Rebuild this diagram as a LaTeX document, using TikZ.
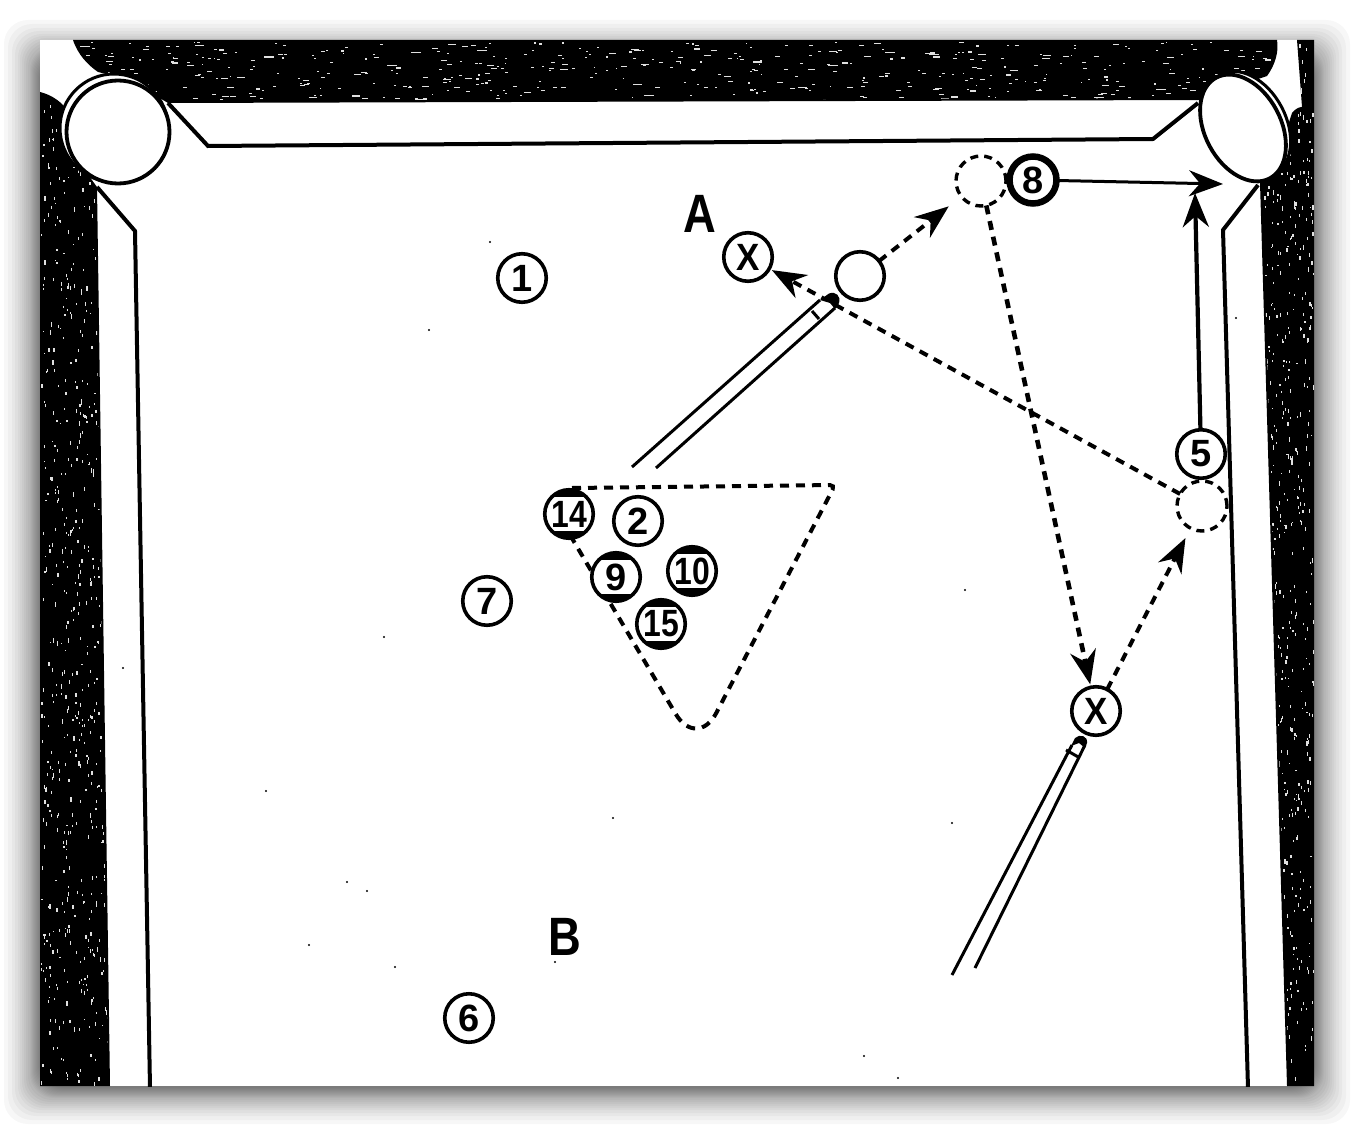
\documentclass[tikz,border=0pt]{standalone}
\usepackage{fontspec}
\usepackage{graphicx}
\setmainfont{Liberation Sans}
\usetikzlibrary{arrows.meta}
\newcommand{\ballfont}{\fontsize{38}{38}\selectfont\bfseries}
\newcommand{\nar}[1]{\scalebox{.92}[1]{#1}}
\newcommand{\nart}[1]{\scalebox{.84}[1]{#1}}
\tikzset{
  ballbase/.style={circle,draw=black,fill=white,inner sep=0pt,outer sep=0pt,minimum size=48.5pt,line width=3.6pt,font=\ballfont},
  striped/.style={ballbase,path picture={
    \fill[black] (path picture bounding box.north west) rectangle ([yshift=-7pt]path picture bounding box.north east);
    \fill[black] (path picture bounding box.south west) rectangle ([yshift=7pt]path picture bounding box.south east);}},
  ghost/.style={circle,draw=black,inner sep=0pt,outer sep=0pt,minimum size=50pt,line width=3.4pt,dash pattern=on 8pt off 6pt},
  letter/.style={inner sep=0pt,font=\fontsize{54}{54}\selectfont\bfseries},
  rail/.style={line width=4pt,line join=miter},
  dashline/.style={line width=4pt,dash pattern=on 9pt off 7pt},
  head/.style={-{Stealth[length=34pt,width=26pt,inset=11pt]}},
  cueline/.style={line width=3pt},
}
\begin{document}
\begin{tikzpicture}[x=1pt,y=-1pt]
\useasboundingbox (0,0) rectangle (1354,1126);
\fill[white] (0,0) rectangle (1354,1126);
% drop shadow
\foreach \s in {36,32,28,25,22,20,18,16,14,12,10,9,8,7,6,5,4,3,2,1,0}{
  \fill[black,opacity=.032,rounded corners=24pt] ({40-\s},{56-\s}) rectangle ({1314+\s},{1088+\s});
}
\fill[white] (40,40) rectangle (1314,1086);
% felt
\begin{scope}
\clip (40,40) rectangle (1314,1086);
\fill[black] (73,40) .. controls (78,55) and (88,65) .. (98,72) -- (130,80) -- (168,103) -- (1200,100) -- (1240,85) -- (1267,76) .. controls (1275,65) and (1279,52) .. (1277,40) -- cycle;
\fill[black] (40,92) .. controls (48,94) and (56,98) .. (63,105) -- (70,150) -- (97,187) -- (110,1086) -- (40,1086) -- cycle;
\fill[black] (1297,40) -- (1314,40) -- (1314,1086) -- (1287,1086) -- (1260,183) -- (1280,150) -- (1292,113) .. controls (1295,109) and (1299,107) .. (1302,107) -- cycle;
\pgfmathsetseed{11}
\begin{scope}
\clip (73,40) .. controls (78,55) and (88,65) .. (98,72) -- (130,80) -- (168,101) -- (1200,98) -- (1240,85) -- (1267,76) .. controls (1275,65) and (1279,52) .. (1277,40) -- cycle;
\foreach \i in {1,...,480}{
  \pgfmathsetmacro\px{80+rnd*1190}\pgfmathsetmacro\py{42+rnd*58}\pgfmathsetmacro\w{1.5+rnd*rnd*9}
  \fill[white!88!black] (\px,\py) rectangle ++(\w,1.1);
}
\end{scope}
\begin{scope}
\clip (40,92) .. controls (48,94) and (56,98) .. (63,105) -- (70,150) -- (95,187) -- (108,1086) -- (40,1086) -- cycle;
\foreach \i in {1,...,620}{
  \pgfmathsetmacro\px{41+rnd*68}\pgfmathsetmacro\py{95+rnd*990}\pgfmathsetmacro\w{1.2+rnd*3.5}
  \fill[white!88!black] (\px,\py) rectangle ++(1.2,\w);
}
\end{scope}
\begin{scope}
\clip (1297,40) -- (1314,40) -- (1314,1086) -- (1289,1086) -- (1262,183) -- (1280,150) -- (1292,113) .. controls (1295,109) and (1299,107) .. (1302,107) -- cycle;
\foreach \i in {1,...,560}{
  \pgfmathsetmacro\px{1262+rnd*52}\pgfmathsetmacro\py{42+rnd*1043}\pgfmathsetmacro\w{1.2+rnd*3.5}
  \fill[white!88!black] (\px,\py) rectangle ++(1.2,\w);
}
\end{scope}
% rail lines
\draw[rail] (168,103) -- (208,146) -- (1153,139) -- (1198,103);
\draw[rail] (97,187) -- (135,231) -- (150,1088);
\draw[rail] (1258,185) -- (1223,230) -- (1248,1088);
% pockets
\draw[line width=3pt,fill=white] (114,128) circle[radius=54pt];
\draw[line width=3.8pt,fill=white] (118,132) circle[radius=51.5pt];
\draw[line width=3pt,fill=white,shift={(1247,125)},rotate=28] (0,0) circle[x radius=39pt,y radius=57pt];
\draw[line width=3.8pt,fill=white,shift={(1243,128)},rotate=28] (0,0) circle[x radius=38pt,y radius=57pt];
\end{scope}
% specks
\foreach \p in {(490,242),(429,330),(384,637),(266,791),(613,818),(347,882),(367,891),(309,945),(395,967),(123,668),(864,1056),(898,1078),(952,823),(965,590),(1236,318),(555,962)}{
  \fill[black] \p circle[radius=1.2pt];
}
% rack
\draw[dashline] (572,488) [rounded corners=5pt] -- (835,485) [rounded corners=42pt] -- (697,750) -- (560,518);
% balls
\node[ghost] (g8) at (981,181) {};
\node[ghost] (g5) at (1202,506) {};
\node[ballbase] (n1) at (522,278) {1};
\node[ballbase] (n7) at (487,601) {7};
\node[ballbase] (n6) at (469,1018) {6};
\node[striped] (n14) at (569,514) {\nart{14}};
\node[ballbase] (n2) at (638,521) {2};
\node[striped] (n9) at (616,577) {9};
\node[striped] (n10) at (692,571) {\nart{10}};
\node[striped] (n15) at (661,624) {\nart{15}};
\node[ballbase] (xa) at (748,257) {\nar{X}};
\node[ballbase] (cb) at (860,276) {};
\node[ballbase,line width=6.5pt,minimum size=47pt] (n8) at (1033,180) {8};
\node[ballbase] (n5) at (1201,454) {5};
\node[ballbase] (xb) at (1096,711) {\nar{X}};
\node[letter] (la) at (700,214) {\nart{A}};
\node[letter] (lb) at (565,937) {\nart{B}};
\coordinate (pk1) at (1223,184);
\coordinate (pk2) at (1195,193);
% connectors
\draw[dashline,head,shorten >=16pt] (cb) -- (g8);
\draw[dashline,head,shorten >=3pt] (g5) -- (xa);
\draw[dashline,line width=4.6pt,head,shorten >=3pt] (g8) -- (xb);
\draw[dashline,head,shorten >=11pt] (xb) -- (g5);
\draw[line width=3pt,head] (n8) -- (pk1);
\draw[line width=4.2pt,head] (n5) -- (pk2);
% cues
\fill[white] (812,307) -- (820,300) -- (830,295) -- (838,296) -- (838,303) -- (835,308) -- (826,316) -- cycle;
\draw[cueline] (632,467) -- (820,300) (656,468) -- (835,308) (812,311) -- (819,319);
\fill[black] (820,300) -- (829,293.5) .. controls (836,291) and (841,296) .. (839,303) -- (835,309) -- (830,303) -- cycle;
\fill[white] (1072,744) -- (1076,737) -- (1083,737) -- (1086,742) -- (1082,752) -- (1070,756) -- cycle;
\draw[cueline] (952,975) -- (1072,745) (975,968) -- (1085,745) (1066,750) -- (1080,758);
\fill[black] (1071,746) -- (1075,738) .. controls (1080,733.5) and (1088,736) .. (1087,743) -- (1085,748) -- (1079,743) -- cycle;
\end{tikzpicture}
\end{document}
